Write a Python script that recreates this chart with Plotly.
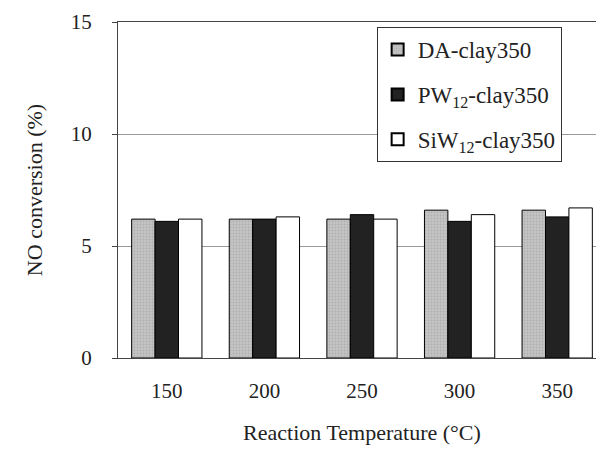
import plotly.graph_objects as go

categories = ["150", "200", "250", "300", "350"]
da = [6.2, 6.2, 6.2, 6.6, 6.6]
pw = [6.1, 6.2, 6.4, 6.1, 6.3]
siw = [6.2, 6.3, 6.2, 6.4, 6.7]

fig = go.Figure()
fig.add_bar(x=categories, y=da, name="DA-clay350", legendgroup="a",
            marker=dict(color="#c4c4c4", line=dict(color="black", width=1),
                        pattern=dict(shape=".", fgcolor="#999", size=3, solidity=0.3)))
fig.add_bar(x=categories, y=pw, name="PW<sub>12</sub>-clay350", legendgroup="b",
            marker=dict(color="#222222", line=dict(color="black", width=1)))
fig.add_bar(x=categories, y=siw, name="SiW<sub>12</sub>-clay350", legendgroup="c",
            marker=dict(color="white", line=dict(color="black", width=1)))

fig.update_layout(
    width=604, height=449, barmode="group", bargap=0.28, bargroupgap=0.0,
    plot_bgcolor="white", paper_bgcolor="white",
    font=dict(family="Liberation Serif", size=21, color="#222"),
    margin=dict(l=110, r=6, t=14, b=99),
    xaxis=dict(title=dict(text="Reaction Temperature (°C)", standoff=22, font=dict(size=22)),
               showline=True, linecolor="#444", ticks="", mirror=True,
               ticklabelstandoff=14, automargin=False),
    yaxis=dict(title=dict(text="NO conversion (%)", standoff=22, font=dict(size=22)), range=[0, 15],
               tickvals=[0, 5, 10, 15], showgrid=True, gridcolor="#999",
               showline=True, linecolor="#444", ticks="outside", ticklen=5,
               mirror=True, zeroline=False, ticklabelstandoff=16, automargin=False),
    legend=dict(x=0.53, y=0.985, xanchor="left", yanchor="top",
                bordercolor="#333", borderwidth=1, bgcolor="white",
                font=dict(size=23), itemsizing="constant", tracegroupgap=12),
)
fig.write_html("out.html")
